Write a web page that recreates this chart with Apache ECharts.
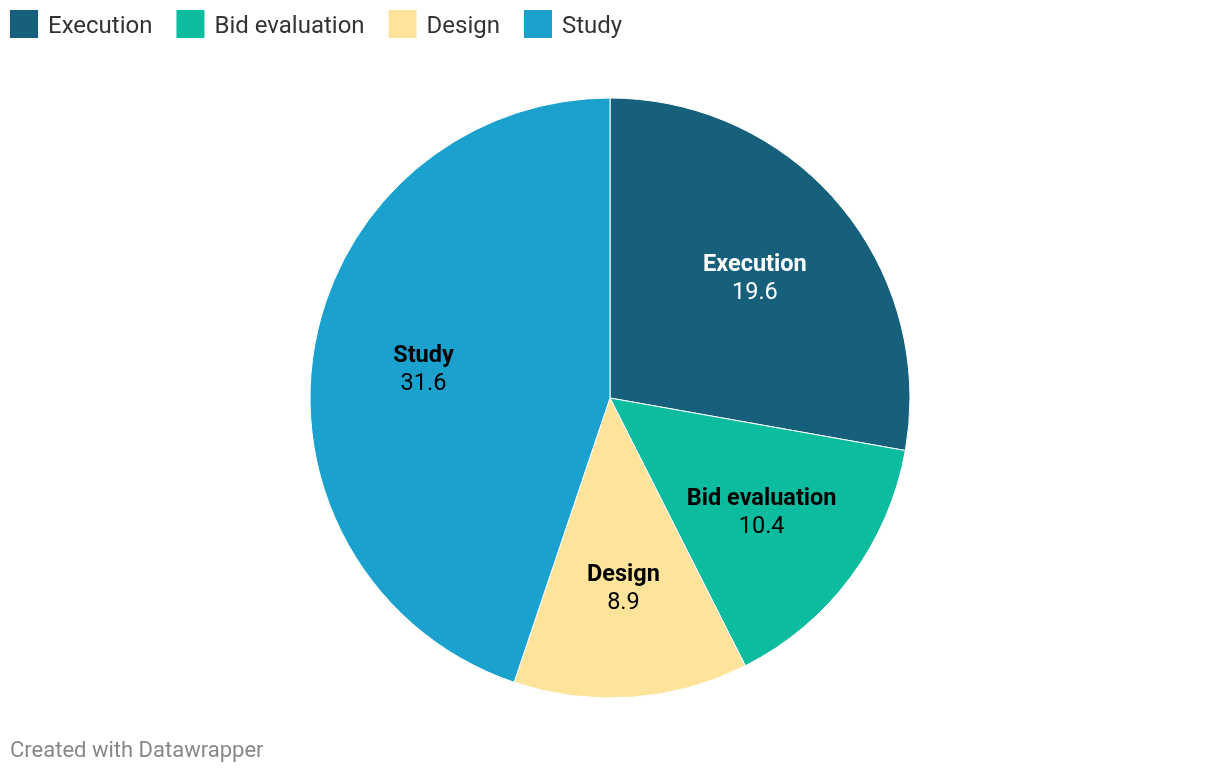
<!DOCTYPE html>
<html><head><meta charset="utf-8">
<script src="https://cdn.jsdelivr.net/npm/echarts@6/dist/echarts.min.js"></script>
<style>html,body{margin:0;padding:0;background:#fff}#c{width:1220px;height:774px}</style>
</head><body><div id="c"></div>
<script>
const categories = ['Execution', 'Bid evaluation', 'Design', 'Study'];
const values = [19.6, 10.4, 8.9, 31.6];
const colors = ['#17607c', '#0bbc9f', '#fee39b', '#1aa1cd'];
const labelColors = ['#ffffff', '#000000', '#000000', '#000000'];

const chart = echarts.init(document.getElementById('c'), null, {renderer: 'canvas'});
const data = categories.map((n, i) => ({name: n, value: values[i], itemStyle: {color: colors[i]}}));
const labelData = categories.map((n, i) => ({
  name: n, value: values[i],
  itemStyle: {color: 'rgba(255,255,255,0)', borderWidth: 0},
  label: {color: labelColors[i]}
}));
chart.setOption({
  animation: false,
  legend: {
    left: 10, top: 10, padding: 0, itemWidth: 28, itemHeight: 28, itemGap: 24, icon: 'rect',
    itemStyle: {borderWidth: 0},
    formatter: n => '{a|' + n + '}',
    textStyle: {
      fontFamily: 'Roboto', fontSize: 24, color: '#333', padding: [0, 0, 0, 5],
      rich: {a: {fontFamily: 'Roboto', fontSize: 24, color: '#333', lineHeight: 30, verticalAlign: 'bottom'}}
    },
    data: categories
  },
  graphic: [{
    type: 'text', left: 10, top: 740,
    style: {text: 'Created with Datawrapper', fontFamily: 'Roboto', fontSize: 22, fill: '#888'}
  }],
  series: [{
    type: 'pie', center: [610, 398], radius: [0, 300], startAngle: 90, clockwise: true,
    label: {show: false}, labelLine: {show: false},
    itemStyle: {borderColor: '#fff', borderWidth: 1},
    emphasis: {disabled: true},
    data: data
  }, {
    type: 'pie', center: [610, 398], radius: [72, 300], startAngle: 90, clockwise: true,
    silent: true, legendHoverLink: false,
    label: {
      show: true, position: 'inside', padding: [5, 0, 0, 0],
      formatter: p => '{b|' + p.name + '}\n{v|' + p.value + '}',
      rich: {
        b: {fontFamily: 'Roboto', fontWeight: 'bold', fontSize: 23.5, lineHeight: 28},
        v: {fontFamily: 'Roboto', fontSize: 23.5, lineHeight: 28}
      }
    },
    labelLine: {show: false},
    emphasis: {disabled: true},
    data: labelData
  }]
});
</script></body></html>
